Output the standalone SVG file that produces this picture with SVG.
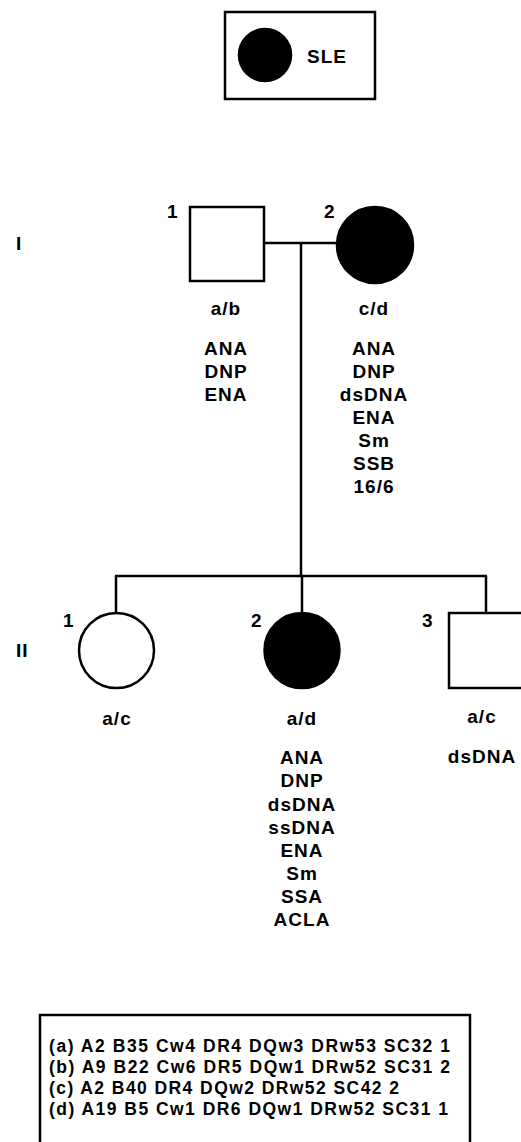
<svg xmlns="http://www.w3.org/2000/svg" width="521" height="1142" viewBox="0 0 521 1142">
<style>
.ln{stroke:#000;stroke-width:2.5;fill:none}
.aff{fill:#000;stroke:#000;stroke-width:2.5}
.un{fill:#fff;stroke:#000;stroke-width:2.5}
text{font-family:"Liberation Sans",Arial,sans-serif;font-weight:bold;font-size:19px;fill:#000;letter-spacing:1px}
.c{text-anchor:middle}
.k{font-size:17.5px;letter-spacing:0}
</style>
<rect width="521" height="1142" fill="#fff"/>
<g id="legend">
<rect x="225" y="12" width="150" height="87" class="ln"/>
<circle cx="265" cy="55" r="26" class="aff"/>
<text x="307" y="63">SLE</text>
</g>
<g id="connectors">
<line x1="264" y1="243" x2="337" y2="243" class="ln"/>
<line x1="301" y1="243" x2="301" y2="576" class="ln"/>
<line x1="115" y1="576" x2="487" y2="576" class="ln"/>
<line x1="116" y1="576" x2="116" y2="613" class="ln"/>
<line x1="302" y1="576" x2="302" y2="613" class="ln"/>
<line x1="486" y1="576" x2="486" y2="613" class="ln"/>
</g>
<text x="16" y="250">I</text>
<text x="16" y="657">II</text>
<g id="I-1">
<rect x="190" y="207" width="74" height="74" class="un"/>
<text x="167" y="218">1</text>
<text x="226" y="315" class="c">a/b</text>
<text x="226" y="355" class="c">ANA</text>
<text x="226" y="378" class="c">DNP</text>
<text x="226" y="401" class="c">ENA</text>
</g>
<g id="I-2">
<circle cx="375" cy="245" r="38" class="aff"/>
<text x="324" y="218">2</text>
<text x="374" y="315" class="c">c/d</text>
<text x="374" y="355" class="c">ANA</text>
<text x="374" y="378" class="c">DNP</text>
<text x="374" y="401" class="c">dsDNA</text>
<text x="374" y="424" class="c">ENA</text>
<text x="374" y="447" class="c">Sm</text>
<text x="374" y="470" class="c">SSB</text>
<text x="374" y="493" class="c">16/6</text>
</g>
<g id="II-1">
<circle cx="116.5" cy="650.5" r="37.5" class="un"/>
<text x="63" y="627">1</text>
<text x="117" y="725" class="c">a/c</text>
</g>
<g id="II-2">
<circle cx="302" cy="650.5" r="37.5" class="aff"/>
<text x="251" y="627">2</text>
<text x="302" y="725" class="c">a/d</text>
<text x="302" y="764" class="c">ANA</text>
<text x="302" y="787" class="c">DNP</text>
<text x="302" y="811" class="c">dsDNA</text>
<text x="302" y="834" class="c">ssDNA</text>
<text x="302" y="857" class="c">ENA</text>
<text x="302" y="880" class="c">Sm</text>
<text x="302" y="903" class="c">SSA</text>
<text x="302" y="926" class="c">ACLA</text>
</g>
<g id="II-3">
<rect x="449" y="613" width="75" height="75" class="un"/>
<text x="422" y="627">3</text>
<text x="482" y="723" class="c">a/c</text>
<text x="482" y="763" class="c">dsDNA</text>
</g>
<g id="key">
<rect x="40" y="1015" width="430" height="140" class="ln"/>
<text x="49" y="1052" class="k" textLength="401" lengthAdjust="spacing">(a) A2 B35 Cw4 DR4 DQw3 DRw53 SC32 1</text>
<text x="49" y="1073" class="k" textLength="401" lengthAdjust="spacing">(b) A9 B22 Cw6 DR5 DQw1 DRw52 SC31 2</text>
<text x="49" y="1094" class="k" textLength="350" lengthAdjust="spacing">(c) A2 B40 DR4 DQw2 DRw52 SC42 2</text>
<text x="49" y="1115" class="k" textLength="399" lengthAdjust="spacing">(d) A19 B5 Cw1 DR6 DQw1 DRw52 SC31 1</text>
</g>
</svg>
